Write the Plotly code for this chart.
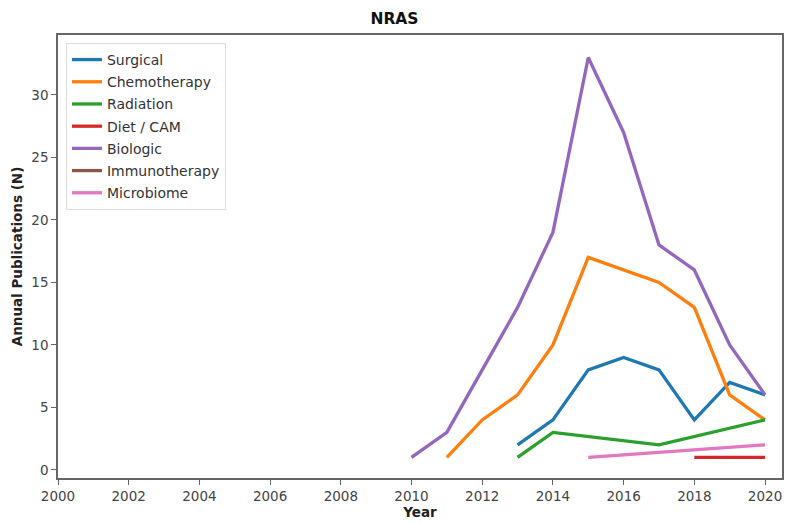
import plotly.graph_objects as go

surgical_years = [2013, 2014, 2015, 2016, 2017, 2018, 2019, 2020]
surgical_vals = [2, 4, 8, 9, 8, 4, 7, 6]

chemo_years = [2011, 2012, 2013, 2014, 2015, 2016, 2017, 2018, 2019, 2020]
chemo_vals = [1, 4, 6, 10, 17, 16, 15, 13, 6, 4]

radiation_years = [2013, 2014, 2017, 2020]
radiation_vals = [1, 3, 2, 4]

diet_years = [2018, 2019, 2020]
diet_vals = [1, 1, 1]

biologic_years = [2010, 2011, 2012, 2013, 2014, 2015, 2016, 2017, 2018, 2019, 2020]
biologic_vals = [1, 3, 8, 13, 19, 33, 27, 18, 16, 10, 6]

immuno_years = [None]
immuno_vals = [None]

microbiome_years = [2015, 2020]
microbiome_vals = [1, 2]

x_ticks = list(range(2000, 2021, 2))
y_ticks = [0, 5, 10, 15, 20, 25, 30]

series = [
    ("Surgical", surgical_years, surgical_vals, "#1f77b4"),
    ("Chemotherapy", chemo_years, chemo_vals, "#ff7f0e"),
    ("Radiation", radiation_years, radiation_vals, "#2ca02c"),
    ("Diet / CAM", diet_years, diet_vals, "#d62728"),
    ("Biologic", biologic_years, biologic_vals, "#9467bd"),
    ("Immunotherapy", immuno_years, immuno_vals, "#8c564b"),
    ("Microbiome", microbiome_years, microbiome_vals, "#e377c2"),
]

fig = go.Figure()
for name, xs, ys, color in series:
    fig.add_trace(go.Scatter(x=xs, y=ys, mode="lines", name=name, legendgroup=name,
                             line=dict(color=color, width=3.3)))

axis_common = dict(
    showgrid=False, zeroline=False, showline=True, linecolor="#666666",
    linewidth=1.6, mirror=True, ticks="outside", ticklen=5, tickcolor="#666666",
    tickfont=dict(family="DejaVu Sans", size=13.5, color="#444444"),
)

fig.update_layout(
    width=789, height=523,
    margin=dict(l=58, r=5, t=35, b=45),
    paper_bgcolor="white", plot_bgcolor="white",
    font=dict(family="DejaVu Sans", color="#222222"),
    title=dict(text="<b>NRAS</b>", x=0.5, xanchor="center", y=0.964, yanchor="middle",
               font=dict(size=15.5, color="#111111")),
    xaxis=dict(range=[2000, 2020.48], tickvals=x_ticks,
               title=dict(text="<b>Year</b>", font=dict(size=13.5), standoff=4), **axis_common),
    yaxis=dict(range=[-0.65, 34.8], tickvals=y_ticks,
               title=dict(text="<b>Annual Publications (N)</b>", font=dict(size=13.5), standoff=6),
               **axis_common),
    legend=dict(x=0.011, y=0.982, xanchor="left", yanchor="top",
                bgcolor="rgba(255,255,255,0.8)", bordercolor="#dddddd", borderwidth=1,
                font=dict(size=14, color="#333333"), tracegroupgap=1, itemwidth=30),
    showlegend=True,
)

fig.write_html("out.html")
